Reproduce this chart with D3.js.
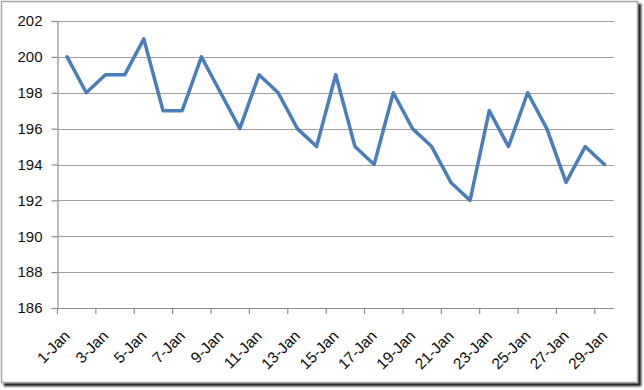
<!DOCTYPE html>
<html>
<head>
<meta charset="utf-8">
<script src="https://cdn.jsdelivr.net/npm/d3@7"></script>
<style>
  html, body { margin: 0; padding: 0; background: #fff; }
  svg { display: block; font-family: Arial, "Liberation Sans", sans-serif; }
</style>
</head>
<body>
<svg id="chart" width="644" height="390"></svg>
<script>
const categories = ["1-Jan","2-Jan","3-Jan","4-Jan","5-Jan","6-Jan","7-Jan","8-Jan","9-Jan","10-Jan",
  "11-Jan","12-Jan","13-Jan","14-Jan","15-Jan","16-Jan","17-Jan","18-Jan","19-Jan","20-Jan",
  "21-Jan","22-Jan","23-Jan","24-Jan","25-Jan","26-Jan","27-Jan","28-Jan","29-Jan"];
const values = [200,198,199,199,201,197,197,200,198,196,
  199,198,196,195,199,195,194,198,196,195,
  193,192,197,195,198,196,193,195,194];
const yTicks = [186,188,190,192,194,196,198,200,202];

(function () {
const svg = d3.select("#chart");

// frame with shadow
const defs = svg.append("defs");
const f = defs.append("filter").attr("id","sh").attr("x","-5%").attr("y","-5%").attr("width","110%").attr("height","110%");
f.append("feGaussianBlur").attr("in","SourceAlpha").attr("stdDeviation",1.2).attr("result","b");
f.append("feOffset").attr("in","b").attr("dx",3).attr("dy",3).attr("result","o");
f.append("feComponentTransfer").attr("in","o").attr("result","o2")
  .append("feFuncA").attr("type","linear").attr("slope",0.9);
const m = f.append("feMerge");
m.append("feMergeNode").attr("in","o2");
m.append("feMergeNode").attr("in","SourceGraphic");

svg.append("rect").attr("x",1.5).attr("y",1.5).attr("width",636).attr("height",381)
  .attr("fill","#fff").attr("stroke","#a6a6a6").attr("stroke-width",1.5).attr("filter","url(#sh)");

const pl = 57.5, pr = 614, pt = 21, pb = 308;

const x = d3.scaleBand().domain(categories).range([pl, pr]).padding(0);
const y = d3.scaleLinear().domain([186, 202]).range([pb, pt]);

// gridlines
svg.append("g").selectAll("line").data(yTicks.filter(d => d !== 186)).join("line")
  .attr("x1", pl).attr("x2", pr)
  .attr("y1", d => Math.round(y(d)) + 0.5).attr("y2", d => Math.round(y(d)) + 0.5)
  .attr("stroke", "#a0a0a0").attr("stroke-width", 1.2);

// y axis
const yAxis = svg.append("g").attr("transform", `translate(${pl},0)`)
  .call(d3.axisLeft(y).tickValues(yTicks).tickSize(6).tickPadding(9).tickFormat(d3.format("d")));
yAxis.select(".domain").attr("stroke", "#8c8c8c").attr("stroke-width", 1.2);
yAxis.selectAll(".tick line").attr("stroke", "#8c8c8c").attr("stroke-width", 1.2);
yAxis.selectAll(".tick text").attr("font-size", 15).attr("fill", "#111")
  .attr("font-family", "Arial, 'Liberation Sans', sans-serif");

// x axis: ticks at left edge of every second category
const tickCats = categories.filter((d, i) => i % 2 === 0);
const xg = svg.append("g").attr("transform", `translate(0,${pb})`);
xg.append("line").attr("x1", pl).attr("x2", pr).attr("y1", 0.5).attr("y2", 0.5)
  .attr("stroke", "#8c8c8c").attr("stroke-width", 1.2);
xg.selectAll("line.tk").data(tickCats).join("line").attr("class","tk")
  .attr("x1", d => x(d)).attr("x2", d => x(d)).attr("y1", 0).attr("y2", 6)
  .attr("stroke", "#8c8c8c").attr("stroke-width", 1.2);
xg.selectAll("text").data(tickCats).join("text")
  .attr("transform", d => `translate(${x(d) + x.bandwidth()/2},${25}) rotate(-45)`)
  .attr("text-anchor", "end").attr("dy", "0.35em")
  .attr("font-size", 15.5).attr("fill", "#111")
  .text(d => d);

// line
const line = d3.line()
  .x((d, i) => x(categories[i]) + x.bandwidth()/2)
  .y(d => y(d));
svg.append("path").datum(values)
  .attr("d", line).attr("fill", "none")
  .attr("stroke", "#4a7ebb").attr("stroke-width", 3.5)
  .attr("stroke-linejoin", "round").attr("stroke-linecap", "round");
})();
</script>
</body>
</html>
